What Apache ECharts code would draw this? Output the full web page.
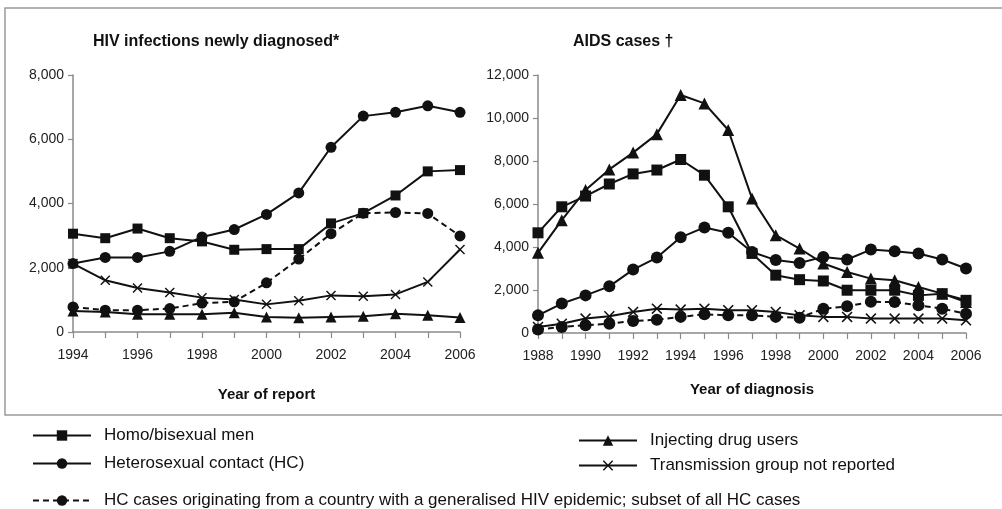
<!DOCTYPE html>
<html>
<head>
<meta charset="utf-8">
<script src="https://cdn.jsdelivr.net/npm/echarts@6/dist/echarts.min.js"></script>
<style>
  html, body { margin: 0; padding: 0; background: #fff; }
  #chart { width: 1002px; height: 509px; }
</style>
</head>
<body>
<div id="chart"></div>
<script>
// left panel: HIV infections newly diagnosed (year of report)
const hivYears = ['1994', '1995', '1996', '1997', '1998', '1999', '2000', '2001', '2002', '2003', '2004', '2005', '2006']
const hivHomo = [3060, 2920, 3220, 2920, 2820, 2560, 2580, 2580, 3380, 3700, 4250, 5000, 5040]
const hivHetero = [2130, 2320, 2320, 2510, 2960, 3190, 3660, 4330, 5750, 6720, 6840, 7040, 6840]
const hivHcEpidemic = [780, 680, 680, 730, 900, 940, 1530, 2270, 3060, 3700, 3720, 3690, 2990]
const hivIdu = [650, 620, 550, 550, 550, 600, 470, 440, 470, 490, 570, 520, 450]
const hivNotReported = [2130, 1610, 1370, 1230, 1070, 1010, 860, 970, 1140, 1110, 1170, 1560, 2570]
const hivTicks = [0, 2000, 4000, 6000, 8000]

// right panel: AIDS cases (year of diagnosis)
const aidsYears = ['1988', '1989', '1990', '1991', '1992', '1993', '1994', '1995', '1996', '1997', '1998', '1999', '2000', '2001', '2002', '2003', '2004', '2005', '2006']
const aidsHomo = [4660, 5870, 6370, 6930, 7400, 7580, 8070, 7340, 5870, 3700, 2690, 2480, 2420, 1990, 1990, 1990, 1750, 1830, 1520]
const aidsHetero = [820, 1370, 1750, 2170, 2950, 3510, 4450, 4910, 4660, 3770, 3390, 3260, 3540, 3420, 3880, 3800, 3700, 3420, 3000]
const aidsHcEpidemic = [160, 280, 360, 430, 560, 620, 750, 870, 820, 820, 750, 710, 1130, 1240, 1450, 1440, 1290, 1130, 900]
const aidsIdu = [3730, 5250, 6650, 7610, 8390, 9250, 11070, 10680, 9440, 6260, 4550, 3930, 3230, 2840, 2530, 2450, 2140, 1830, 1440]
const aidsNotReported = [280, 430, 670, 780, 980, 1130, 1090, 1130, 1060, 1060, 980, 820, 750, 750, 670, 670, 670, 670, 590]
const aidsTicks = [0, 2000, 4000, 6000, 8000, 10000, 12000]

const names = {
  homo: 'Homo/bisexual men',
  hetero: 'Heterosexual contact (HC)',
  idu: 'Injecting drug users',
  notReported: 'Transmission group not reported',
  hc: 'HC cases originating from a country with a generalised HIV epidemic; subset of all HC cases'
}

const font = 'Liberation Sans Narrow, Liberation Sans, Arial, sans-serif'
const axisGrey = '#8a8a8a'
const crossPath = 'path://M0,1 L1,0 L5,4 L9,0 L10,1 L6,5 L10,9 L9,10 L5,6 L1,10 L0,9 L4,5 Z'

const makeX = (gridIndex, data, title, gap) => ({
  type: 'category',
  gridIndex: gridIndex,
  data: data,
  boundaryGap: false,
  name: title,
  nameLocation: 'middle',
  nameGap: gap,
  nameTextStyle: { fontFamily: font, fontWeight: 'bold', fontSize: 15, color: '#111' },
  axisLine: { lineStyle: { color: axisGrey, width: 1.5 } },
  axisTick: { show: true, interval: 0, length: 6, lineStyle: { color: axisGrey, width: 1.2 } },
  axisLabel: { interval: 1, margin: 16, fontFamily: font, fontSize: 14, color: '#222' }
})

const makeY = (gridIndex, ticks) => ({
  type: 'value',
  gridIndex: gridIndex,
  min: ticks[0],
  max: ticks[ticks.length - 1],
  interval: ticks[1] - ticks[0],
  splitLine: { show: false },
  axisLine: { show: true, lineStyle: { color: axisGrey, width: 1.5 } },
  axisTick: { show: true, length: 5, lineStyle: { color: axisGrey, width: 1.2 } },
  axisLabel: {
    margin: 9,
    fontFamily: font,
    fontSize: 14,
    color: '#222',
    formatter: v => v.toLocaleString('en-US')
  }
})

const makeLine = (idx, name, data, symbol, size, dashed) => ({
  name: name,
  type: 'line',
  xAxisIndex: idx,
  yAxisIndex: idx,
  data: data,
  symbol: symbol,
  symbolSize: size,
  showAllSymbol: true,
  lineStyle: { color: '#111', width: 2, type: dashed ? [6, 4] : 'solid' },
  itemStyle: { color: '#111' },
  z: dashed ? 2 : 3
})

const seriesFor = (idx, d, s) => [
  makeLine(idx, names.hc, d.hc, 'circle', s + 1, true),
  makeLine(idx, names.idu, d.idu, 'triangle', s + 1, false),
  makeLine(idx, names.notReported, d.nr, crossPath, s, false),
  makeLine(idx, names.homo, d.homo, 'rect', s, false),
  makeLine(idx, names.hetero, d.hetero, 'circle', s + 1, false)
]

const legendBase = {
  orient: 'vertical',
  itemWidth: 58,
  itemHeight: 13,
  selectedMode: false,
  textStyle: { fontFamily: 'Liberation Sans, Arial, sans-serif', fontSize: 17, lineHeight: 17, color: '#111', padding: [0, 0, 0, 8] }
}

const chart = echarts.init(document.getElementById('chart'))
chart.setOption({
  animation: false,
  backgroundColor: '#fff',
  title: [
    { text: 'HIV infections newly diagnosed*', left: 88, top: 29, textStyle: { fontFamily: font, fontSize: 16, fontWeight: 'bold', color: '#111' } },
    { text: 'AIDS cases †', left: 568, top: 29, textStyle: { fontFamily: font, fontSize: 16, fontWeight: 'bold', color: '#111' } }
  ],
  graphic: [{
    type: 'rect',
    shape: { x: 5, y: 8, width: 1020, height: 407 },
    style: { fill: 'none', stroke: '#9a9a9a', lineWidth: 1.5 },
    silent: true
  }],
  legend: [
    Object.assign({}, legendBase, { left: 27, top: 422, itemGap: 11, data: [names.homo, names.hetero] }),
    Object.assign({}, legendBase, { left: 573, top: 427, itemGap: 8, data: [names.idu, names.notReported] }),
    Object.assign({}, legendBase, { left: 27, top: 487, itemGap: 8, data: [names.hc] })
  ],
  grid: [
    { left: 73, right: 542, top: 75, bottom: 177 },
    { left: 538, right: 36, top: 75, bottom: 176 }
  ],
  xAxis: [
    makeX(0, hivYears, 'Year of report', 55),
    makeX(1, aidsYears, 'Year of diagnosis', 49)
  ],
  yAxis: [
    makeY(0, hivTicks),
    makeY(1, aidsTicks)
  ],
  series: seriesFor(0, { homo: hivHomo, hetero: hivHetero, hc: hivHcEpidemic, idu: hivIdu, nr: hivNotReported }, 10)
    .concat(seriesFor(1, { homo: aidsHomo, hetero: aidsHetero, hc: aidsHcEpidemic, idu: aidsIdu, nr: aidsNotReported }, 11))
})
</script>
</body>
</html>
